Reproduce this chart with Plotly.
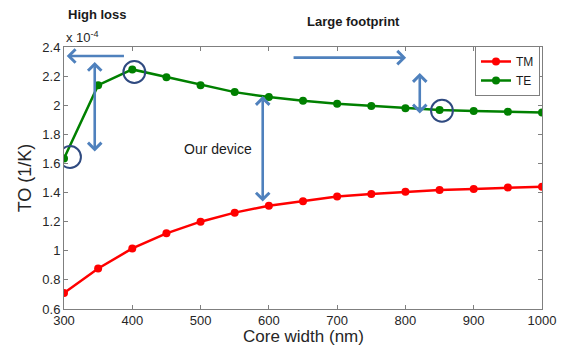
import plotly.graph_objects as go

core_width = [300, 350, 400, 450, 500, 550, 600, 650, 700, 750, 800, 850, 900, 950, 1000]
to_tm = [0.71, 0.878, 1.016, 1.12, 1.20, 1.262, 1.31, 1.34, 1.373, 1.39, 1.405, 1.418, 1.425, 1.435, 1.44]
to_te = [1.634, 2.138, 2.246, 2.193, 2.138, 2.09, 2.056, 2.03, 2.01, 1.995, 1.98, 1.967, 1.96, 1.955, 1.95]

x_ticks = [300, 400, 500, 600, 700, 800, 900, 1000]
y_ticks = [0.6, 0.8, 1.0, 1.2, 1.4, 1.6, 1.8, 2.0, 2.2, 2.4]

ARROW = "#4F81BD"
CIRCLE = "#2F4A80"
FONT = "Liberation Sans, Arial, sans-serif"

fig = go.Figure()
fig.add_trace(go.Scatter(x=core_width, y=to_tm, name="TM", mode="lines+markers",
                         line=dict(color="#FF0000", width=2.5),
                         marker=dict(color="#FF0000", size=8)))
fig.add_trace(go.Scatter(x=core_width, y=to_te, name="TE", mode="lines+markers",
                         line=dict(color="#008000", width=2.5),
                         marker=dict(color="#008000", size=8)))

axis_common = dict(showgrid=False, zeroline=False, showline=True, linecolor="#7F7F7F",
                   linewidth=1, mirror="ticks", ticks="inside", ticklen=4, automargin=False,
                   tickcolor="#7F7F7F", tickfont=dict(size=13, color="#262626", family=FONT))

fig.update_xaxes(range=[300, 1000], tickvals=x_ticks, ticklabelstandoff=-1, **axis_common)
fig.update_yaxes(range=[0.6, 2.4], tickvals=y_ticks, **axis_common,
                 title=dict(text="TO (1/K)", font=dict(size=18, color="#262626", family=FONT), standoff=6))

# x-axis title as annotation (placed below tick labels)
fig.add_annotation(text="Core width (nm)", xref="paper", yref="paper", x=0.5, y=(309 - 336) / 262,
                   xanchor="center", yanchor="middle", showarrow=False, borderpad=0,
                   font=dict(size=17, color="#262626", family=FONT))

# arrows (data coordinates)
def arrow(x0, y0, x1, y1, both=False):
    fig.add_annotation(x=x1, y=y1, ax=x0, ay=y0, xref="x", yref="y", axref="x", ayref="y",
                       text="", showarrow=True, arrowhead=4, arrowsize=1.0, arrowwidth=2.6,
                       arrowcolor=ARROW, arrowside="end+start" if both else "end",
                       startarrowhead=4, startarrowsize=1.0)

arrow(390, 2.338, 304, 2.338)
arrow(345, 1.672, 345, 2.297, both=True)
arrow(591, 1.328, 591, 2.063, both=True)
arrow(634, 2.327, 801, 2.327)
arrow(821, 1.933, 821, 2.221, both=True)

# circles
for cx, cy in [(308.8, 1.644), (403, 2.228), (853.5, 1.962)]:
    fig.add_shape(type="circle", xref="x", yref="y",
                  x0=cx - 16, x1=cx + 16, y0=cy - 0.075, y1=cy + 0.075,
                  line=dict(color=CIRCLE, width=2))

# text annotations
fig.add_annotation(text="<b>High loss</b>", xref="paper", yref="paper", x=(97 - 64) / 478, y=(309 - 14) / 262,
                   xanchor="center", yanchor="middle",
                   showarrow=False, font=dict(size=13, color="#1a1a1a", family=FONT))
fig.add_annotation(text="<b>Large footprint</b>", xref="paper", yref="paper", x=(353 - 64) / 478, y=(309 - 22) / 262,
                   xanchor="center", yanchor="middle",
                   showarrow=False, font=dict(size=13, color="#1a1a1a", family=FONT))
fig.add_annotation(text="Our device", xref="x", yref="y", x=525, y=1.70,
                   xanchor="center", yanchor="middle",
                   showarrow=False, font=dict(size=14, color="#1a1a1a", family=FONT))
fig.add_annotation(text="x 10<sup>-4</sup>", xref="paper", yref="paper", x=0.0, y=1.0,
                   xanchor="left", yanchor="bottom", showarrow=False,
                   font=dict(size=13, color="#262626", family=FONT))

fig.update_layout(
    width=566, height=337,
    margin=dict(l=56, r=32, t=39, b=36),
    plot_bgcolor="white", paper_bgcolor="white",
    font=dict(family=FONT),
    legend=dict(x=(540 - 64) / 478, xanchor="right", y=(309 - 46) / 262, yanchor="top",
                bordercolor="#7F7F7F", borderwidth=1, bgcolor="white",
                font=dict(size=12, color="#1a1a1a", family=FONT),
                itemwidth=30, tracegroupgap=0),
    showlegend=True,
)

fig.write_html("out.html")
